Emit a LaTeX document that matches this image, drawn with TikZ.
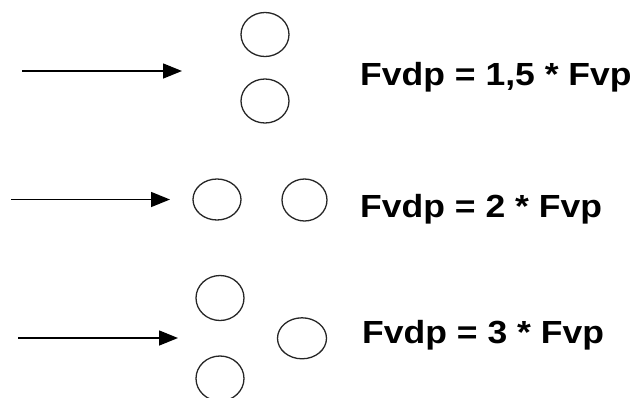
\documentclass[tikz,border=0pt]{standalone}
\usepackage{fontspec}
\newfontfamily\labfont[FakeStretch=1.11]{Liberation Sans}
\usetikzlibrary{arrows.meta,shapes.geometric}
\tikzset{
  particle/.style={draw=black!85, line width=1.3pt, ellipse, inner sep=0pt, minimum width=48pt, minimum height=44pt},
  flow/.style={line width=1.5pt, -{Triangle[length=19pt,width=15pt]}},
  formula/.style={anchor=base west, inner sep=0pt, font=\labfont\bfseries\fontsize{32}{36}\selectfont}
}
\begin{document}
\begin{tikzpicture}[x=1pt,y=-1pt]
\useasboundingbox (0,0) rectangle (638,397);
\clip (0,0) rectangle (638,397);
% row 1
\coordinate (s1) at (22,71);
\coordinate (e1) at (182,71);
\node[particle] (c11) at (265,34.5) {};
\node[particle] (c12) at (265,101) {};
\draw[flow] (s1) -- (e1);
\node[formula] (f1) at (360,85) {Fvdp = 1,5 * Fvp};
% row 2
\coordinate (s2) at (11,199.5);
\coordinate (e2) at (170,199.5);
\node[particle, minimum height=41pt] (c21) at (217,199.5) {};
\node[particle, minimum width=45pt, minimum height=42pt] (c22) at (304.5,200) {};
\draw[flow] (s2) -- (e2);
\node[formula] (f2) at (360,217) {Fvdp = 2 * Fvp};
% row 3
\coordinate (s3) at (18,338);
\coordinate (e3) at (178,338);
\node[particle, minimum height=45pt] (c31) at (220,298) {};
\node[particle, minimum height=45pt] (c32) at (220,378.5) {};
\node[particle, minimum width=49pt, minimum height=41pt] (c33) at (302,338.3) {};
\draw[flow] (s3) -- (e3);
\node[formula] (f3) at (362,343) {Fvdp = 3 * Fvp};
\end{tikzpicture}
\end{document}
